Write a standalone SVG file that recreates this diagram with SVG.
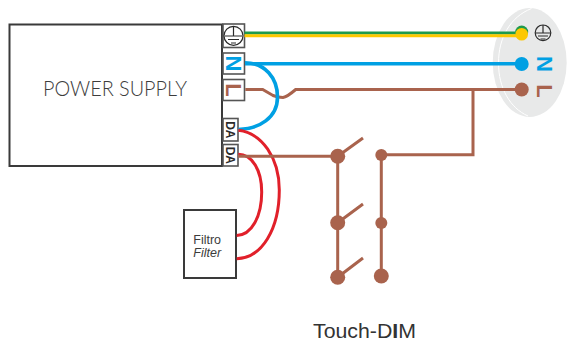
<svg xmlns="http://www.w3.org/2000/svg" width="573" height="343" viewBox="0 0 573 343">
<style>
.box{fill:#fff;stroke:#3a3a3a;stroke-width:2}
.term{fill:#fff;stroke:#555;stroke-width:1.6}
.w{fill:none;stroke-linecap:butt;stroke-linejoin:miter}
.br{stroke:#a9634d;stroke-width:3}
.brd{fill:#a9634d}
.bl{stroke:#00a0e3;stroke-width:3.6}
.rd{stroke:#e1202a;stroke-width:3}
.sym{fill:none;stroke:#2b2b2b;stroke-width:1.2}
text{font-family:"Liberation Sans",Arial,sans-serif}
</style>
<g id="power-supply">
<rect class="box" x="9.500" y="24.500" width="212.500" height="141.500"/>
<text x="43" y="96" font-size="22" fill="#3c3c3c" textLength="144" lengthAdjust="spacingAndGlyphs" style="font-family:Lato,sans-serif;font-weight:300">POWER SUPPLY</text>
</g>
<g id="term-earth">
<rect class="term" x="223" y="24" width="21.500" height="23.500"/>
<circle class="sym" cx="233.500" cy="35.800" r="9.500"/>
<path class="sym" d="M233.500 26.500V36M225 36H242M228 39.500H239M231 43H236"/>
</g>
<g id="term-n">
<rect class="term" x="223" y="53" width="21.500" height="21"/>
<text transform="translate(226 63.500) rotate(90)" text-anchor="middle" font-size="22" font-weight="700" fill="#00a0e3">N</text>
</g>
<g id="term-l">
<rect class="term" x="223" y="79.500" width="21.500" height="21"/>
<text transform="translate(226 90) rotate(90)" text-anchor="middle" font-size="22" font-weight="700" fill="#a9634d">L</text>
</g>
<g id="term-da1">
<rect class="term" x="223" y="118.500" width="15" height="22.500"/>
<text transform="translate(226 129.800) rotate(90)" text-anchor="middle" font-size="12" font-weight="700" fill="#2b2b2b">DA</text>
</g>
<g id="term-da2">
<rect class="term" x="223" y="144.500" width="15" height="21.500"/>
<text transform="translate(226 155.300) rotate(90)" text-anchor="middle" font-size="12" font-weight="700" fill="#2b2b2b">DA</text>
</g>
<g id="filter">
<rect class="box" x="184" y="210" width="52" height="68"/>
<text x="193.300" y="243.500" font-size="12.500" fill="#3c3c3c">Filtro</text>
<text x="193.300" y="257" font-size="12.500" font-style="italic" fill="#3c3c3c">Filter</text>
</g>
<g id="socket">
<ellipse cx="529.700" cy="62.500" rx="37" ry="54.500" fill="#e8e9e9"/>
<path d="M531.500 8.500C510 17 498.500 38 498.500 63C498.500 88 510 108 528 116" fill="none" stroke="#fff" stroke-width="1"/>
<circle class="sym" cx="543" cy="32.800" r="7.800"/>
<path class="sym" d="M543 25V33M535.500 33H550.500M538 36H548M540.500 39H545.500"/>
<text transform="translate(537 64) rotate(90)" text-anchor="middle" font-size="22" font-weight="700" fill="#00a0e3">N</text>
<text transform="translate(537 91) rotate(90)" text-anchor="middle" font-size="22" font-weight="700" fill="#a9634d">L</text>
</g>
<g id="connectors">
<path class="w" d="M244.500 33H521" stroke="#1e9a4c" stroke-width="3"/>
<path class="w" d="M244.500 35.700H521" stroke="#fdc800" stroke-width="3"/>
<circle cx="521.700" cy="32" r="6.500" fill="#1e9a4c"/>
<circle cx="521.700" cy="34.300" r="6.300" fill="#fdc800"/>
<path class="w br" d="M245.300 89.500H262.700L273 95.500Q278 97.500 283 97.500Q287 97 295.700 89.500H521"/>
<path class="w bl" d="M245 62.800C265 62.800 277.500 78 277.500 97C277.500 118 259 129 238.300 129.500"/>
<path class="w bl" d="M245 63.700H521"/>
<circle cx="521.700" cy="64" r="7" fill="#00a0e3"/>
<circle cx="521.700" cy="89.500" r="7" class="brd"/>
<path class="w rd" d="M238.300 130.300C262 133 279.300 158 279.300 190C279.300 229 262 258 236.700 258.800"/>
<path class="w rd" d="M238.300 154.300C252 154.300 261.700 170 261.700 192C261.700 216 252 235 236.700 235.500"/>
<path class="w br" d="M238 156.300H338M337.700 156.300V277.300M337.700 156.300L363 138M337.700 222.700L363 204M337.700 277.300L363 258M381.300 155V276M381.300 154.800H473V89.500"/>
<g class="brd">
<circle cx="337.700" cy="156.300" r="7.500"/>
<circle cx="337.700" cy="222.700" r="7.500"/>
<circle cx="337.700" cy="277.300" r="7.500"/>
<circle cx="381.300" cy="155" r="6"/>
<circle cx="381.300" cy="223" r="6"/>
<circle cx="381.300" cy="276" r="7.500"/>
</g>
</g>
<text x="313" y="338" font-size="20.500" fill="#333" textLength="103" lengthAdjust="spacingAndGlyphs">Touch-D<tspan font-weight="700">I</tspan>M</text>
</svg>
